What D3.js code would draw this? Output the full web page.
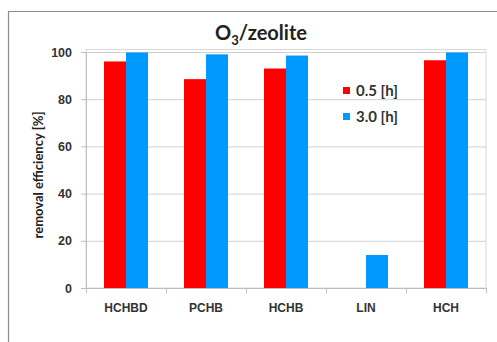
<!DOCTYPE html>
<html><head><meta charset="utf-8">
<script src="https://cdn.jsdelivr.net/npm/d3@7"></script>
<style>body{margin:0;background:#fff;}svg{display:block;font-family:Lato,"Open Sans",sans-serif;}</style>
</head><body><svg id="c" width="497" height="342"></svg>
<script>
const categories = ["HCHBD","PCHB","HCHB","LIN","HCH"];
const series = ["0.5 [h]","3.0 [h]"];
const values05 = [96, 88.5, 93, 0, 96.5];
const values30 = [99.8, 99, 98.5, 14, 99.8];
const yTicks = [0,20,40,60,80,100];
const colors = ["#ff0000","#0099ff"];

const svg = d3.select("#c");
// outer frame
svg.append("path").attr("d","M8.5,342 V11.5 H497").attr("fill","none").attr("stroke","#8c8c8c").attr("stroke-width",1.2);

const L=86, R=486, T=52, B=288;
const x = d3.scaleBand().domain(categories).range([L,R]);
const xs = d3.scaleBand().domain(series).range([0,44]);
const y = d3.scaleLinear().domain([0,100]).range([B,T]);

// plot border
svg.append("rect").attr("x",L).attr("y",T-2.5).attr("width",R-L).attr("height",B-T+2.5)
  .attr("fill","none").attr("stroke","#d9d9d9");
// gridlines
svg.append("g").selectAll("line").data(yTicks.filter(d=>d>0)).join("line")
  .attr("x1",L).attr("x2",R).attr("y1",d=>y(d)+0.5).attr("y2",d=>y(d)+0.5)
  .attr("stroke","#d0d0d0");

// bars
const data = [values05, values30];
categories.forEach((c,i)=>{
  series.forEach((s,j)=>{
    svg.append("rect")
      .attr("x", x(c)+x.bandwidth()/2-22+xs(s))
      .attr("width", xs.bandwidth())
      .attr("y", y(data[j][i]))
      .attr("height", B - y(data[j][i]))
      .attr("fill", colors[j]);
  });
});

// axes
const yAxis = d3.axisLeft(y).tickValues(yTicks).tickSize(5).tickPadding(9);
const gy = svg.append("g").attr("transform",`translate(${L},0)`).call(yAxis);
gy.select(".domain").attr("stroke","#bfbfbf");
gy.selectAll(".tick line").attr("stroke","#bfbfbf");
gy.selectAll("text").attr("font-size",12.5).attr("font-weight","bold").attr("fill","#333");

const xAxis = d3.axisBottom(x).tickSize(0).tickPadding(15);
const gx = svg.append("g").attr("transform",`translate(0,${B})`).call(xAxis);
gx.select(".domain").attr("stroke","#bfbfbf");
gx.selectAll("text").attr("font-size",12).attr("font-weight","bold").attr("fill","#333");
// category separator ticks
svg.append("g").selectAll("line").data(categories.concat(["_end"])).join("line")
  .attr("x1",(d,i)=>L+i*x.step()+0.5).attr("x2",(d,i)=>L+i*x.step()+0.5)
  .attr("y1",B).attr("y2",B+5).attr("stroke","#bfbfbf");

// y label
svg.append("text").attr("transform",`translate(43,175) rotate(-90)`)
  .attr("text-anchor","middle").attr("font-size",13).attr("font-weight","bold").attr("fill","#222")
  .text("removal efficiency [%]");

// title
const t = svg.append("text").attr("x",261).attr("y",40).attr("text-anchor","middle")
  .attr("font-size",20).attr("font-weight","bold").attr("fill","#222");
t.append("tspan").text("O");
t.append("tspan").attr("font-size",13).attr("dy",5).text("3");
t.append("tspan").attr("dy",-5).text("/zeolite");

// legend
const lg = svg.append("g");
series.forEach((s,j)=>{
  lg.append("rect").attr("x",343).attr("y",87+j*26).attr("width",7).attr("height",7).attr("fill",colors[j]);
  lg.append("text").attr("x",356).attr("y",96+j*26).attr("font-size",15).attr("font-weight","bold").attr("fill","#333").text(s);
});
</script></body></html>
